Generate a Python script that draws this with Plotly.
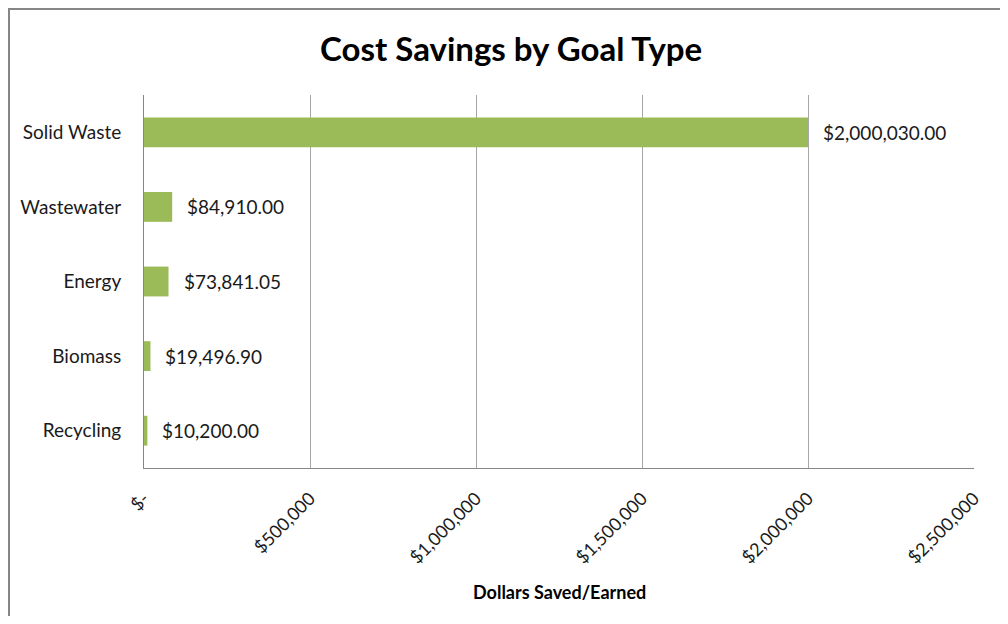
import plotly.graph_objects as go

categories = ["Recycling", "Biomass", "Energy", "Wastewater", "Solid Waste"]
savings = [10200.00, 19496.90, 73841.05, 84910.00, 2000030.00]
tick_vals = [0, 500000, 1000000, 1500000, 2000000, 2500000]
tick_text = ["$-", "$500,000", "$1,000,000", "$1,500,000", "$2,000,000", "$2,500,000"]
title_text = "Cost Savings by Goal Type"
xaxis_title = "Dollars Saved/Earned"

FONT = "Lato"
BAR = "#9BBB59"
TXT = "#1a1a1a"

# figure sits at page offset (8, 8) because of the body margin
W, H = 992, 608
L, T = 136, 87
R, B = W - 966, H - 460
pw, ph = W - L - R, H - T - B

fig = go.Figure()
fig.add_trace(go.Bar(
    y=categories, x=savings, orientation="h",
    marker=dict(color=BAR, line=dict(width=0)),
    hoverinfo="skip",
))

for c, v in zip(categories, savings):
    fig.add_annotation(
        x=v, y=c, xref="x", yref="y", text=f"${v:,.2f}",
        showarrow=False, xanchor="left", yanchor="middle", xshift=13,
        font=dict(family=FONT, size=19, color=TXT),
    )

fig.add_annotation(
    x=(503 - L) / pw, y=(H - B - 40) / ph, xref="paper", yref="paper",
    text=f"<b>{title_text}</b>", showarrow=False, xanchor="center", yanchor="middle",
    font=dict(family=FONT, size=33, color="#000000"),
)
fig.add_annotation(
    x=0.5, y=(H - B - 584) / ph, xref="paper", yref="paper",
    text=f"<b>{xaxis_title}</b>", showarrow=False, xanchor="center", yanchor="middle",
    font=dict(family=FONT, size=18, color="#000000"),
)

# chart-area border
fig.add_shape(
    type="rect", xref="paper", yref="paper",
    x0=(1 - L) / pw, x1=(1030 - L) / pw,
    y0=(H - B - 640) / ph, y1=(H - B - 1) / ph,
    line=dict(color="#868686", width=2), fillcolor="rgba(0,0,0,0)", layer="below",
)

fig.update_layout(
    width=W, height=H,
    margin=dict(l=L, r=R, t=T, b=B, pad=0),
    paper_bgcolor="white", plot_bgcolor="white",
    showlegend=False, bargap=0.6,
    font=dict(family=FONT, color=TXT),
    xaxis=dict(
        range=[0, 2500000], tickvals=tick_vals, ticktext=tick_text,
        tickangle=-45, showgrid=True, gridcolor="#a6a6a6", gridwidth=1,
        showline=True, linecolor="#868686", linewidth=1, mirror=False,
        zeroline=False, ticks="", ticklabelstandoff=12,
        tickfont=dict(family=FONT, size=18, color=TXT), fixedrange=True,
    ),
    yaxis=dict(
        showgrid=False, showline=True, linecolor="#868686", linewidth=1,
        ticks="", ticklabelstandoff=18, zeroline=False,
        tickfont=dict(family=FONT, size=19, color=TXT), fixedrange=True,
    ),
)

fig.write_html("out.html")
